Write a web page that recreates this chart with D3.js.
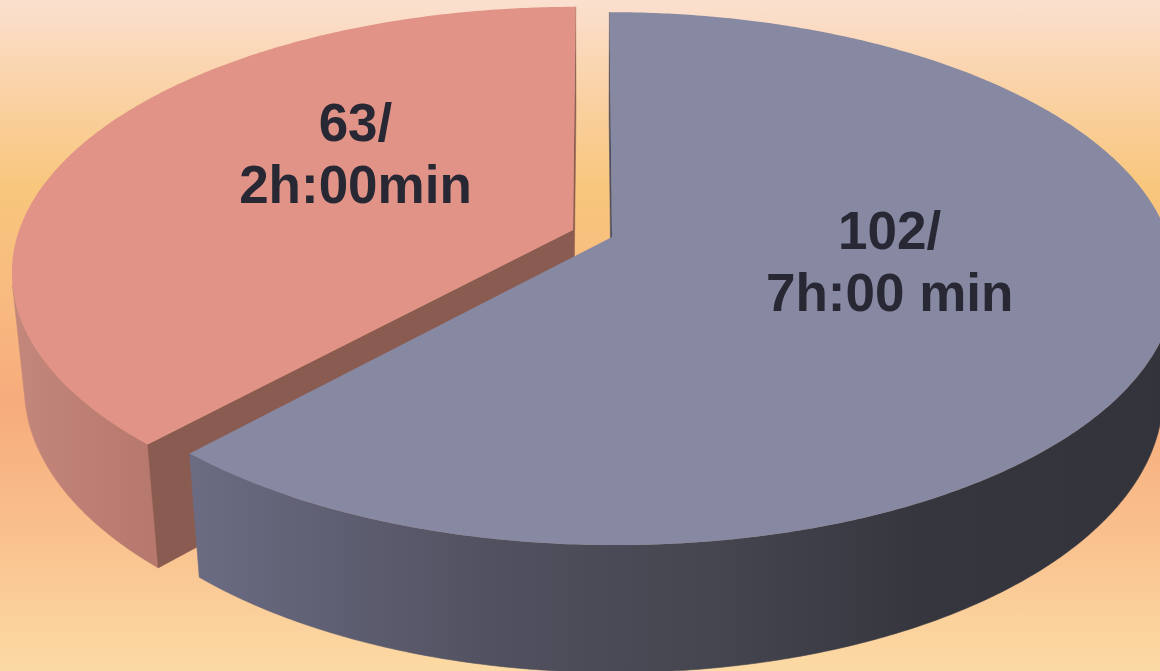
<!DOCTYPE html>
<html><head><meta charset="utf-8">
<script src="https://cdn.jsdelivr.net/npm/d3@7"></script>
<style>html,body{margin:0;padding:0;overflow:hidden;background:#fff}</style>
</head><body>
<script>
// ---- data ----
const categories = ["Group A", "Group B"];
const values = [102, 63];
const countLabels = ["102/", "63/"];
const timeLabels = ["7h:00 min", "2h:00min"];

// ---- styles / layout ----
const W = 1160, H = 671;
const topColors = ["#8788a2", "#e09386"];
const cutColors = ["#4d4e60", "#8a5b51"];
const sideGradients = [
  [[190, "#6b6c83"], [500, "#50505f"], [720, "#45454f"], [920, "#36363f"], [1160, "#33333c"]],
  [[10, "#c4877b"], [150, "#b7786d"]]
];
const labelPlacement = [{shift: -10.7, r: 0.5}, {shift: 16, r: 0.52}];

const tilt = 29 * Math.PI / 180, sn = Math.sin(tilt), cs = Math.cos(tilt);
const persp = 0.178;           // radius / camera distance
const thick = 0.25;            // slice height relative to radius
const explode = 0.0377;
const cx = 592.5, cy = 233.5;
const xScale = d3.scaleLinear().domain([-1, 1]).range([cx - 555, cx + 555]);
const yScale = d3.scaleLinear().domain([-1, 1]).range([cy - 534, cy + 534]);
const eye = [0, cs / persp, sn / persp];

function project(p) {
  const dp = 1 - persp * (p[1] * cs + p[2] * sn);
  return [xScale(p[0] / dp), yScale((p[1] * sn - p[2] * cs) / dp)];
}
function dir(a) { return [Math.sin(a), -Math.cos(a)]; }
function visible(n, p) {
  return n[0] * (eye[0] - p[0]) + n[1] * (eye[1] - p[1]) + n[2] * (eye[2] - p[2]) > 0;
}

const svg = d3.select("body").append("svg").attr("width", W).attr("height", H);
const defs = svg.append("defs");

// background
const bg = defs.append("linearGradient").attr("id", "bg").attr("x1", 0).attr("y1", 0).attr("x2", 0).attr("y2", 1);
[[0, "#fbe0d0"], [0.1, "#fad5b0"], [0.28, "#f8c67c"], [0.45, "#f8ba80"], [0.6, "#f7ab7c"], [0.8, "#f9c18e"], [1, "#fcdaa4"]]
  .forEach(s => bg.append("stop").attr("offset", s[0]).attr("stop-color", s[1]));
svg.append("rect").attr("width", W).attr("height", H).attr("fill", "url(#bg)");

sideGradients.forEach((stops, i) => {
  const g = defs.append("linearGradient").attr("id", "side" + i)
    .attr("gradientUnits", "userSpaceOnUse")
    .attr("x1", stops[0][0]).attr("x2", stops[stops.length - 1][0]).attr("y1", 0).attr("y2", 0);
  const x0 = stops[0][0], x1 = stops[stops.length - 1][0];
  stops.forEach(s => g.append("stop").attr("offset", (s[0] - x0) / (x1 - x0)).attr("stop-color", s[1]));
});

const arcs = d3.pie().sort(null).value(d => d)(values);
const line = d3.line().curve(d3.curveLinearClosed);

// draw back slice (red, index 1) first, then blue
const order = [1, 0];
order.forEach(i => {
  const a = arcs[i];
  const mid = (a.startAngle + a.endAngle) / 2;
  const md = dir(mid);
  const c = [md[0] * explode, md[1] * explode];
  const g = svg.append("g");
  const pt = (ang, z) => { const d = dir(ang); return [c[0] + d[0], c[1] + d[1], z]; };

  // outer side
  const n = Math.max(8, Math.ceil((a.endAngle - a.startAngle) / (Math.PI / 360)));
  const angs = d3.range(n + 1).map(k => a.startAngle + (a.endAngle - a.startAngle) * k / n);
  let run = [];
  const runs = [];
  for (let k = 0; k < n; k++) {
    const am = (angs[k] + angs[k + 1]) / 2;
    const d = dir(am);
    const vis = visible([d[0], d[1], 0], pt(am, 0));
    if (vis) { if (!run.length) run.push(k); run.push(k + 1); }
    else if (run.length) { runs.push(run); run = []; }
  }
  if (run.length) runs.push(run);
  runs.forEach(r => {
    const topPts = r.map(k => project(pt(angs[k], 0)));
    const botPts = r.slice().reverse().map(k => project(pt(angs[k], -thick)));
    g.append("path").attr("d", line(topPts.concat(botPts)))
      .attr("fill", "url(#side" + i + ")").attr("stroke", "url(#side" + i + ")").attr("stroke-width", 0.6);
  });

  // cut faces
  [[a.startAngle, -1], [a.endAngle, 1]].forEach(([ang, sgn]) => {
    const nrm = [sgn * Math.cos(ang), sgn * Math.sin(ang), 0];
    if (!visible(nrm, pt(ang, 0))) return;
    const poly = [[c[0], c[1], 0], pt(ang, 0), pt(ang, -thick), [c[0], c[1], -thick]].map(project);
    g.append("path").attr("d", line(poly)).attr("fill", cutColors[i])
      .attr("stroke", cutColors[i]).attr("stroke-width", 0.5);
  });

  // top face
  const topPoly = [project([c[0], c[1], 0])].concat(angs.map(an => project(pt(an, 0))));
  g.append("path").attr("d", line(topPoly)).attr("fill", topColors[i]);
});

// labels
arcs.forEach((a, i) => {
  const mid = (a.startAngle + a.endAngle) / 2;
  const md = dir(mid);
  const lp = labelPlacement[i];
  const la = mid + lp.shift * Math.PI / 180;
  const ld = dir(la);
  const p = project([md[0] * explode + ld[0] * lp.r, md[1] * explode + ld[1] * lp.r, 0]);
  const t = svg.append("text").attr("text-anchor", "middle")
    .attr("font-family", "'Liberation Sans', Arial, sans-serif").attr("font-weight", "bold")
    .attr("font-size", 53).attr("fill", "#272833");
  t.append("tspan").attr("x", p[0]).attr("y", p[1] - 12).text(countLabels[i]);
  t.append("tspan").attr("x", p[0]).attr("y", p[1] + 50).text(timeLabels[i]);
});
</script>
</body></html>
